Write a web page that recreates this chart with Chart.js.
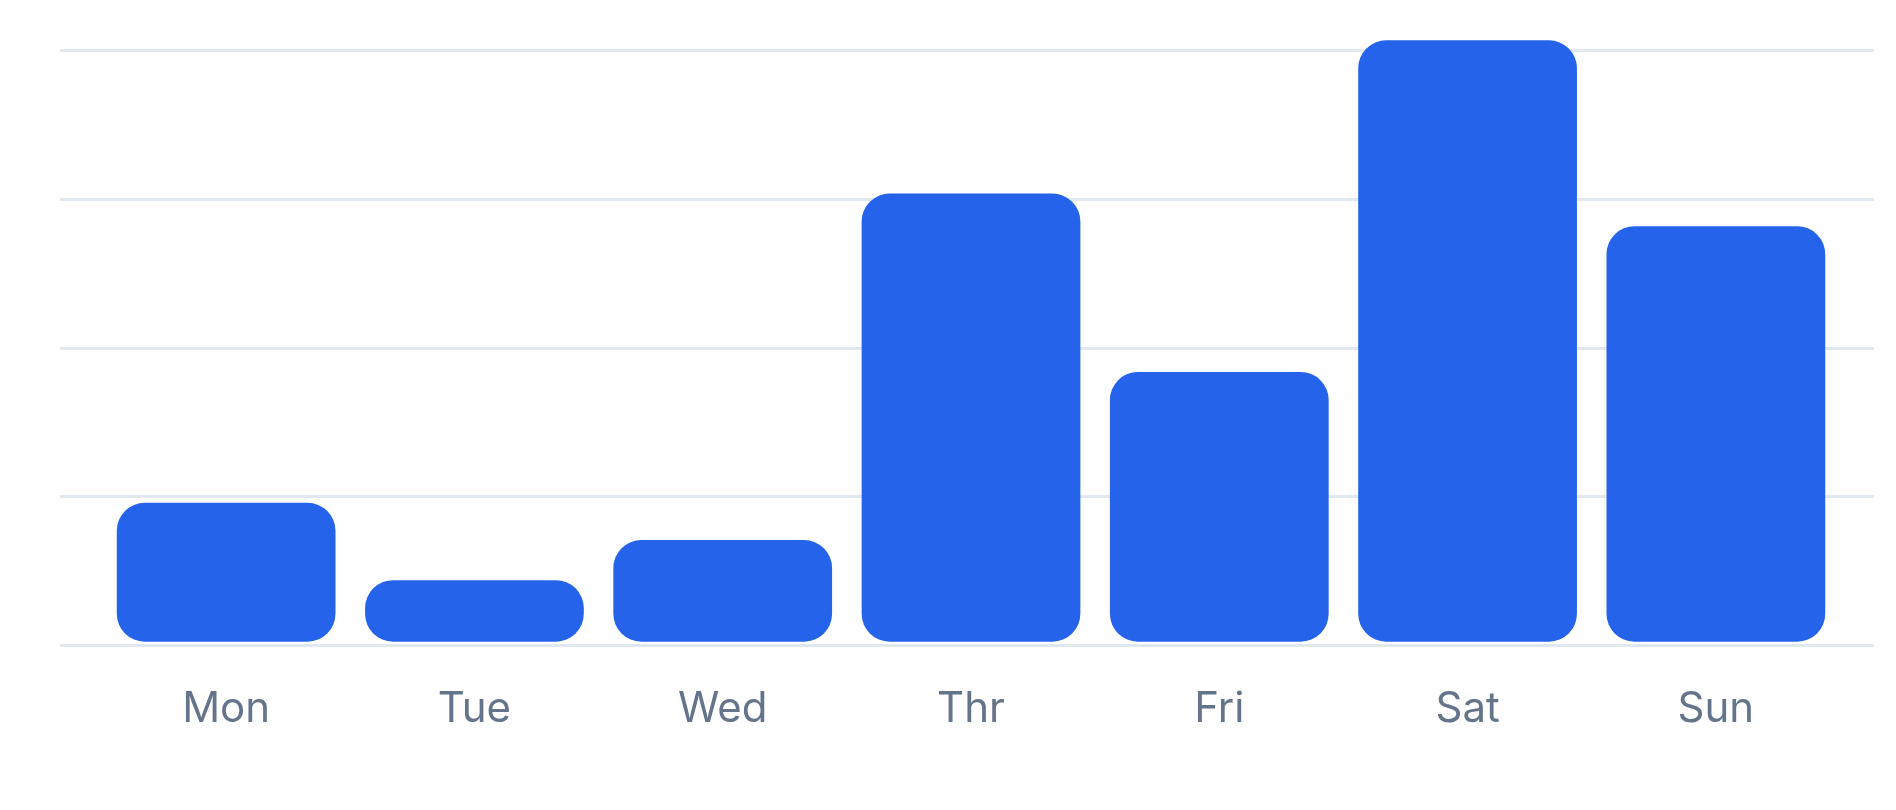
<!DOCTYPE html>
<html>
<head>
<meta charset="utf-8">
<title>Weekly bars</title>
<script src="https://cdn.jsdelivr.net/npm/chart.js@4/dist/chart.umd.min.js"></script>
<style>
  html, body { margin: 0; padding: 0; background: #ffffff; }
  #chart-box { position: relative; width: 1896px; height: 810px; }
</style>
</head>
<body>
<div id="chart-box">
  <canvas id="my-chart"></canvas>
</div>
<script>
'use strict';

//***********Chart data***********
let dayLabels = ['Mon', 'Tue', 'Wed', 'Thr', 'Fri', 'Sat', 'Sun'];
let dayValues = [9.6, 4.4, 7.1, 30.4, 18.4, 40.7, 28.2];
let yMin = 0;
let yMax = 42;
let yStep = 10;

//***********DOM references***********
let weekChart = document.getElementById('my-chart');

// the grey lines run a bit past the bars on both sides, so the side axes only draw tick marks
function renderChart() {
  let myChartObj = {
    type: 'bar',
    data: {
      labels: dayLabels,
      datasets: [{
        data: dayValues,
        backgroundColor: '#2563eb',
        borderWidth: 0,
        borderSkipped: false,
        borderRadius: 28,
        // bars float a few px above the bottom line
        base: 0.26,
        barPercentage: 0.881,
        categoryPercentage: 1
      }]
    },
    options: {
      responsive: true,
      maintainAspectRatio: false,
      animation: false,
      layout: {
        padding: { left: 60, right: 22, top: 21, bottom: 44 }
      },
      plugins: {
        legend: { display: false },
        tooltip: { enabled: false }
      },
      scales: {
        x: {
          grid: { display: false },
          border: { display: false },
          ticks: {
            color: '#64748b',
            padding: 31,
            font: { family: 'Inter', size: 42 }
          }
        },
        y: {
          position: 'left',
          min: yMin,
          max: yMax,
          border: { display: false },
          grid: {
            color: '#e2e8f0',
            lineWidth: 3,
            drawTicks: true,
            tickLength: 42
          },
          ticks: {
            display: false,
            stepSize: yStep,
            includeBounds: false
          }
        },
        y2: {
          position: 'right',
          min: yMin,
          max: yMax,
          border: { display: false },
          grid: {
            color: '#e2e8f0',
            lineWidth: 3,
            drawOnChartArea: false,
            drawTicks: true,
            tickLength: 34
          },
          ticks: {
            display: false,
            stepSize: yStep,
            includeBounds: false
          }
        }
      }
    }
  };
  new Chart(weekChart, myChartObj);
}

renderChart();
</script>
</body>
</html>
